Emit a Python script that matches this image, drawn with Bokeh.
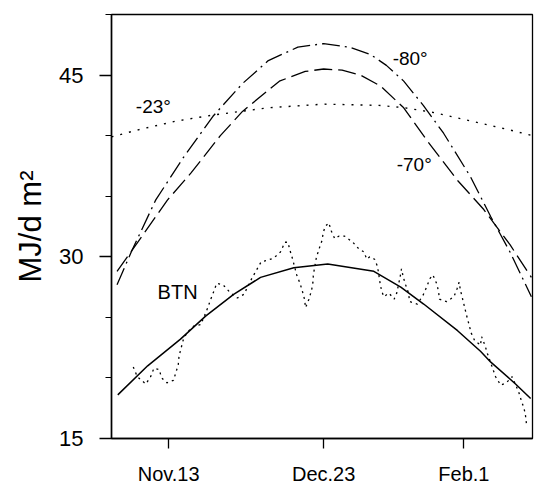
from bokeh.plotting import figure
from bokeh.models import FixedTicker, Range1d, ColumnDataSource
from bokeh.embed import file_html
from bokeh.resources import INLINE
from bokeh.core.properties import value

FONT = "Liberation Sans"

# x axis: days relative to Dec.23
tick_days = [-42, 0, 38]
tick_labels = ["Nov.13", "Dec.23", "Feb.1"]
y_major = [15, 30, 45]
y_minor = [15, 20, 25, 30, 35, 40, 45, 50]

# -80 deg (dash-dot)
lat80_day = [-56, -52, -45.5, -38, -30, -22, -15, -7, 0, 7, 12.7, 17, 21.7, 27, 32.5, 39.8, 45.3, 50.5, 56.3]
lat80_val = [27.7, 30.5, 34.7, 38.2, 41.6, 44.3, 46.2, 47.3, 47.6, 47.3, 46.7, 45.8, 44.5, 42.5, 40.2, 36.6, 33.3, 30.4, 26.7]

# -70 deg (dashed)
lat70_day = [-56, -52, -42.3, -36, -28, -22, -12, -5, 0, 5, 10, 15.4, 21.7, 28, 36.3, 43.4, 50.5, 56.3]
lat70_val = [28.8, 30.5, 34.7, 36.9, 40.0, 42.0, 44.5, 45.3, 45.5, 45.4, 45.0, 44.1, 42.3, 39.6, 36.3, 33.9, 31.0, 28.3]

# -23 deg (dotted)
lat23_day = [-57.5, -50, -40, -30, -15, 0, 15, 22, 30, 40, 50, 56.6]
lat23_val = [39.9, 40.5, 41.2, 41.7, 42.3, 42.6, 42.5, 42.3, 41.9, 41.2, 40.5, 40.0]

# BTN smooth (solid)
btn_fit_day = [-55.8, -47.7, -38.8, -32.0, -24.4, -17.1, -8.1, 1.1, 13.6, 20.9, 27.1, 36.3, 42.5, 45.3, 52.0, 56.1]
btn_fit_val = [18.6, 21.0, 23.2, 25.1, 26.9, 28.3, 29.1, 29.4, 28.8, 27.5, 26.1, 23.9, 22.2, 21.3, 19.5, 18.3]

# BTN observed (dotted)
btn_obs_day = [-51.6, -50.5, -48.2, -46.9, -46.0, -44.6, -43.9, -42.5, -40.7, -40.0,
               -39.4, -39.2, -38.6, -38.0, -36.9, -35.1, -33.3, -31.4, -30.6, -29.7,
               -29.0, -27.3, -25.5, -23.4, -21.6, -19.5, -18.2, -16.9, -15.3, -13.5,
               -11.7, -10.5, -9.7, -9.1, -8.5, -7.3, -6.4, -5.8, -5.2, -4.9,
               -4.0, -3.3, -2.9, -2.8, -2.0, -1.3, -0.5, -0.1, 0.4, 1.4,
               2.1, 3.0, 4.1, 5.7, 7.9, 9.4, 10.9, 11.7, 12.5, 13.8,
               14.6, 15.3, 15.7, 16.3, 17.7, 19.1, 19.8, 20.7, 21.1, 21.6,
               22.2, 23.0, 23.3, 25.4, 26.9, 27.9, 28.8, 29.6, 30.6, 31.1,
               31.4, 33.3, 35.3, 36.2, 36.7, 37.1, 37.6, 38.7, 39.4, 40.0,
               40.9, 42.5, 42.8, 43.7, 44.4, 45.9, 46.6, 48.0, 49.5, 51.1,
               52.9, 53.6, 54.3, 54.7, 55.0]
btn_obs_val = [20.9, 20.1, 19.5, 20.1, 20.8, 20.7, 20.0, 19.6, 19.8, 20.5,
               21.1, 21.8, 22.5, 23.2, 23.8, 24.3, 24.4, 25.8, 26.5, 27.2,
               27.8, 27.7, 27.1, 26.6, 26.9, 28.2, 28.9, 29.6, 29.7, 29.9,
               30.4, 31.2, 31.2, 30.5, 29.9, 28.5, 27.8, 27.2, 26.5, 25.8,
               26.5, 27.2, 27.9, 28.5, 29.9, 30.6, 31.3, 32.0, 32.5, 32.8,
               32.1, 31.5, 31.7, 31.7, 31.2, 30.7, 30.4, 29.8, 30.0, 29.8,
               29.2, 27.8, 27.2, 26.7, 27.0, 26.5, 27.0, 28.3, 29.0, 28.3,
               27.7, 27.0, 26.3, 26.1, 26.8, 27.5, 28.2, 28.5, 27.8, 27.2,
               26.5, 26.3, 26.7, 27.4, 27.9, 27.2, 26.6, 25.2, 24.4, 23.7,
               23.1, 22.7, 23.4, 22.7, 22.0, 20.7, 20.1, 19.4, 19.6, 20.1,
               18.8, 18.1, 17.5, 16.9, 16.1]

label_text = ["-80°", "-70°", "-23°", "BTN"]

p = figure(width=538, height=487, output_backend="svg", toolbar_location=None,
           x_range=Range1d(-57.5, 56.6), y_range=Range1d(15, 50),
           min_border_left=111, min_border_right=6, min_border_top=14, min_border_bottom=47)

p.xgrid.visible = False
p.ygrid.visible = False
p.outline_line_color = "black"
p.outline_line_width = 1.3
p.background_fill_color = "white"
p.border_fill_color = "white"

p.line(lat80_day, lat80_val, line_color="black", line_width=1.3, line_dash="18 5 2 5")
p.line(lat70_day, lat70_val, line_color="black", line_width=1.3, line_dash="18 6")
p.line(lat23_day, lat23_val, line_color="black", line_width=1.4, line_dash="2 7")
p.line(btn_fit_day, btn_fit_val, line_color="black", line_width=1.5)
p.line(btn_obs_day, btn_obs_val, line_color="black", line_width=1.3, line_dash="2 4")

src = ColumnDataSource(dict(x=[18.7, 19.8, -50.9, -45.0], y=[46.4, 37.6, 42.4, 27.1], t=label_text,
                            s=["19px", "19px", "19px", "20px"]))
p.text(x="x", y="y", text="t", source=src, text_font=value(FONT), text_font_size="s",
       text_align="left", text_baseline="alphabetic", text_color="black")

p.xaxis.ticker = FixedTicker(ticks=tick_days, minor_ticks=[])
p.xaxis.major_label_overrides = {d: l for d, l in zip(tick_days, tick_labels)}
p.yaxis.ticker = FixedTicker(ticks=y_major, minor_ticks=y_minor)
p.yaxis.axis_label = "MJ/d m²"

for ax in (p.xaxis[0], p.yaxis[0]):
    ax.axis_line_color = "black"
    ax.axis_line_width = 1.5
    ax.major_tick_line_color = "black"
    ax.major_tick_line_width = 1.3
    ax.minor_tick_line_color = "black"
    ax.minor_tick_line_width = 1.2
    ax.major_tick_in = 0
    ax.minor_tick_in = 0
    ax.major_label_text_font = FONT
    ax.major_label_text_color = "black"
    ax.axis_label_text_font = FONT
    ax.axis_label_text_font_style = "normal"
    ax.axis_label_text_color = "black"

p.yaxis.major_tick_out = 12
p.yaxis.minor_tick_out = 6
p.yaxis.major_label_text_font_size = "22px"
p.yaxis.major_label_standoff = 16
p.yaxis.axis_label_text_font_size = "31px"
p.yaxis.axis_label_standoff = 8

p.xaxis.major_tick_out = 10
p.xaxis.major_label_text_font_size = "20px"
p.xaxis.major_label_standoff = 14

open("out.html", "w").write(file_html(p, INLINE))
